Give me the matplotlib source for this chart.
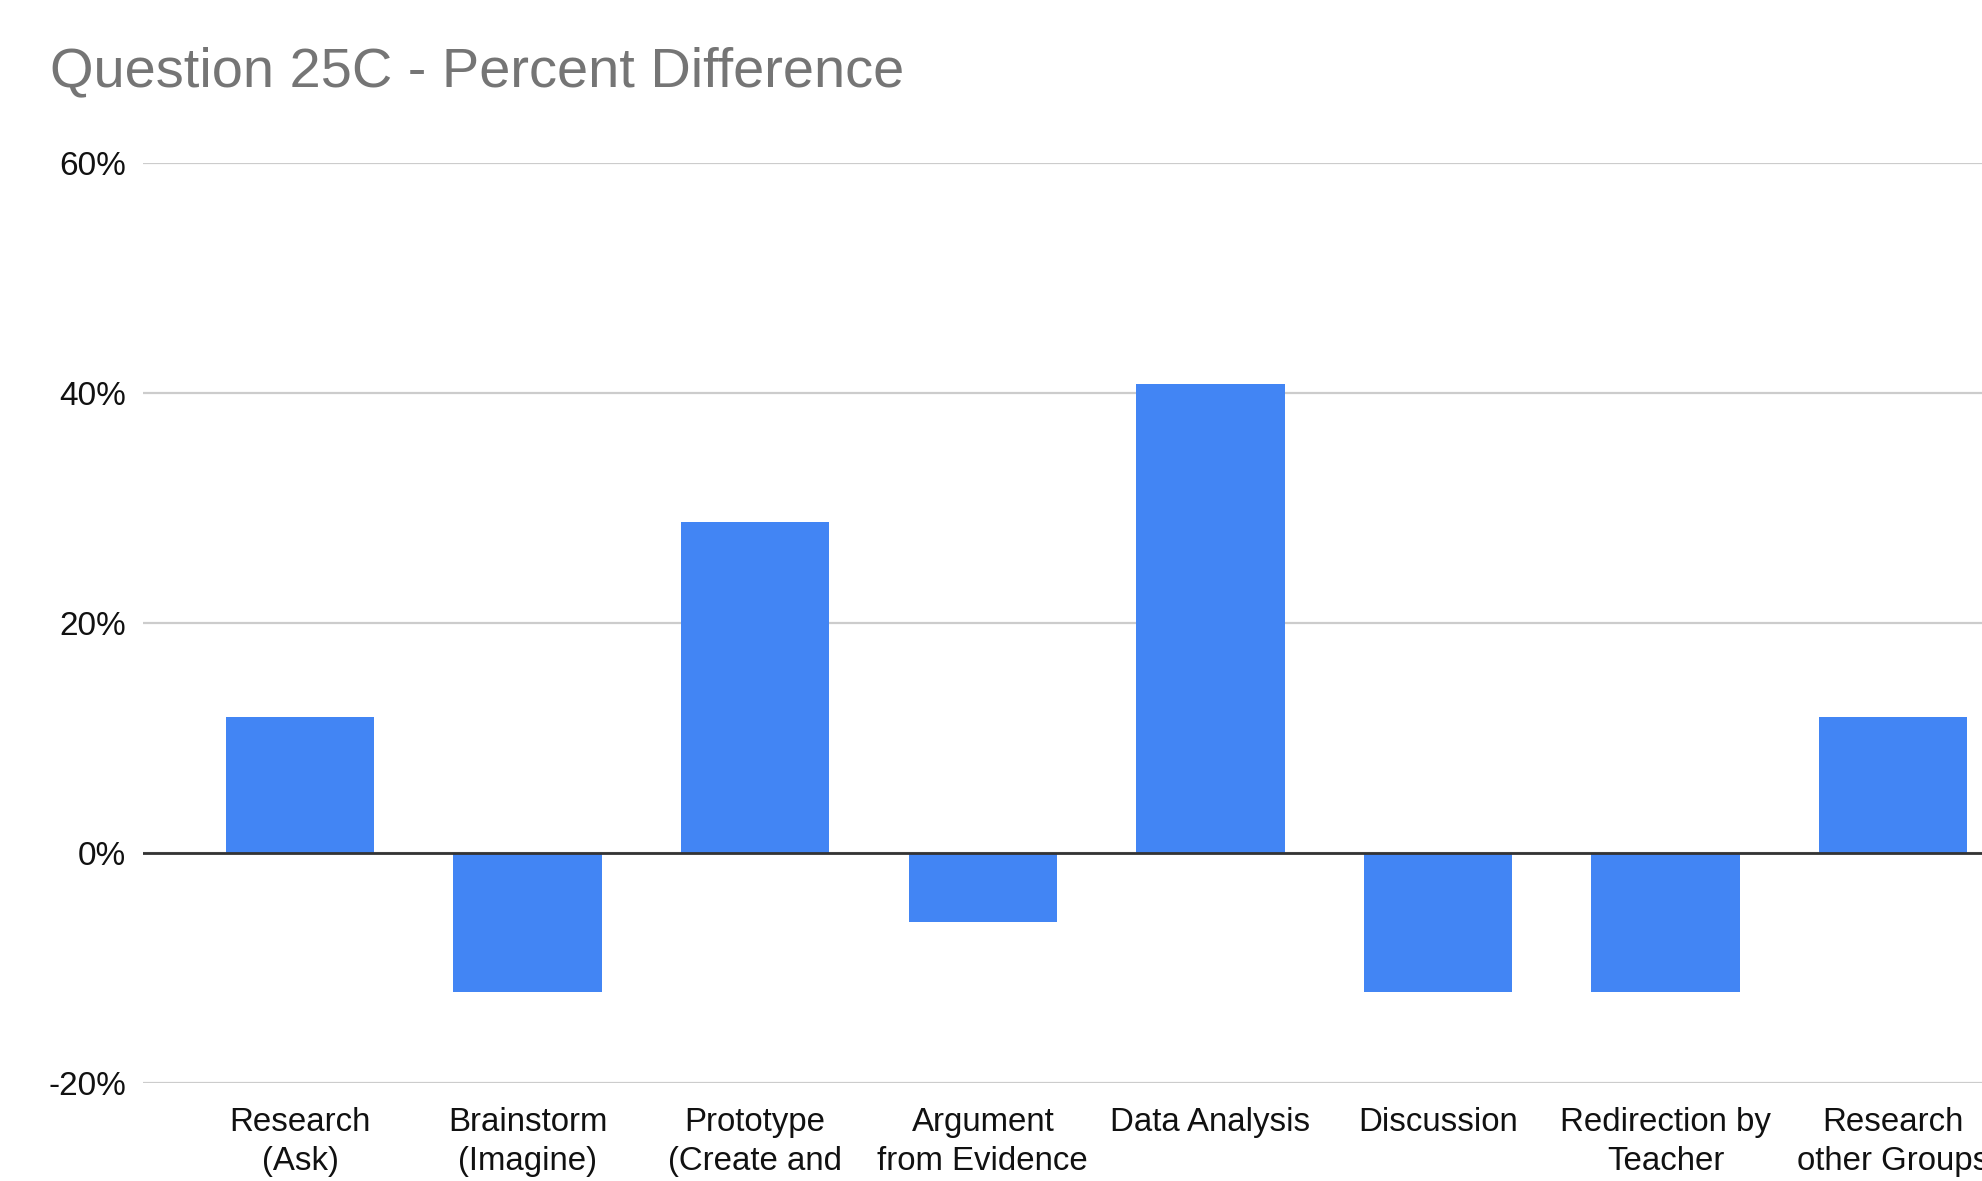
import matplotlib
matplotlib.use("Agg")
import matplotlib.pyplot as plt
from matplotlib.ticker import FuncFormatter

plt.rcParams['font.family'] = ['Liberation Sans', 'DejaVu Sans']

categories = [
    "Research\n(Ask)",
    "Brainstorm\n(Imagine)",
    "Prototype\n(Create and\nTest)",
    "Argument\nfrom Evidence",
    "Data Analysis",
    "Discussion",
    "Redirection by\nTeacher",
    "Research\nother Groups",
]
values = [11.8, -12.1, 28.8, -6.0, 40.8, -12.1, -12.1, 11.8]
y_ticks = [-20, 0, 20, 40, 60]

BAR_COLOR = "#4285F4"
GRID_COLOR = "#cccccc"
W, H = 1982, 1181

fig = plt.figure(figsize=(W / 100, H / 100), dpi=100)
fig.patch.set_facecolor("white")

left_px, right_px = 143, 1982
top_px, bottom_px = 163, 1083
ax = fig.add_axes([left_px / W, 1 - bottom_px / H,
                   (right_px - left_px) / W, (bottom_px - top_px) / H])
ax.set_facecolor("white")

x = list(range(len(categories)))
ax.bar(x, values, width=0.652, color=BAR_COLOR, zorder=2)

ax.set_xlim(-0.69, 7.39)
ax.set_ylim(-20, 60)
ax.set_yticks(y_ticks)
ax.yaxis.set_major_formatter(FuncFormatter(lambda v, _: f"{v:.0f}%"))
ax.grid(axis="y", color=GRID_COLOR, linewidth=1.6, zorder=0)
ax.axhline(0, color="#333333", linewidth=2.0, zorder=3)

for s in ax.spines.values():
    s.set_visible(False)

ax.set_xticks(x)
ax.set_xticklabels(categories, fontsize=23.8, color="#111111", linespacing=1.34)
ax.tick_params(axis="x", length=0, pad=17)
ax.tick_params(axis="y", length=0, pad=12, labelsize=24, labelcolor="#111111")

fig.text(50 / W, 1 - 86 / H, "Question 25C - Percent Difference",
         fontsize=40.3, color="#757575", ha="left", va="baseline")

fig.savefig("out.png", dpi=100, facecolor="white")
